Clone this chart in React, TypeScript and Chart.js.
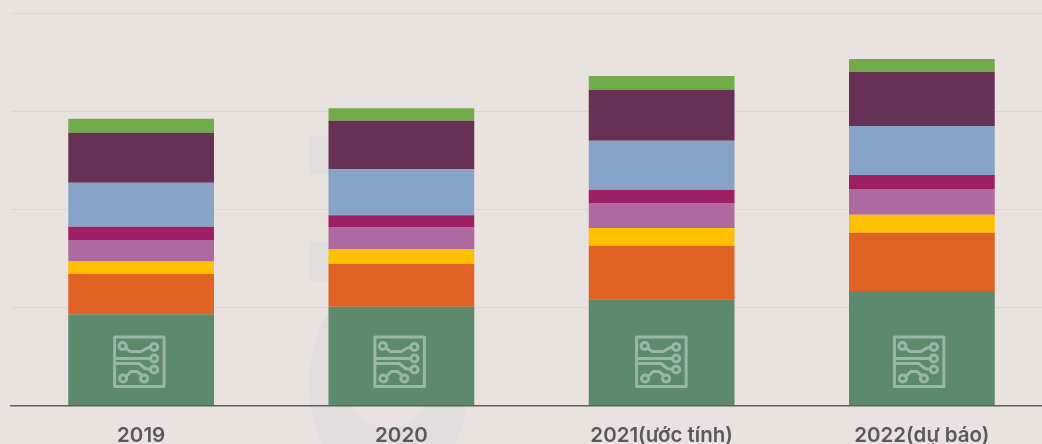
import React, { useEffect, useRef } from "react";
import { Chart, registerables } from "chart.js";

Chart.register(...registerables);

const categories = ["2019", "2020", "2021(ước tính)", "2022(dự báo)"];
const baseGreen = [93, 100.8, 108.4, 116.8];
const orange = [41.4, 43.9, 54.7, 59.5];
const yellow = [12.6, 14.7, 18, 18.4];
const mauve = [22, 22.8, 25.5, 26.2];
const crimson = [13.3, 11.9, 13.6, 14.3];
const blue = [45.1, 46.9, 50, 50];
const purple = [51, 49.6, 52, 55.4];
const lime = [14.3, 12.7, 14, 13];
const yTicks = [0, 100, 200, 300, 400];
const iconNudge = [-2, -2, -0.5, -3];

const BG = "#e9e2df";

const backdrop = {
  id: "backdrop",
  beforeDraw(chart: any) {
    const { ctx, width, height } = chart;
    ctx.save();
    ctx.fillStyle = BG;
    ctx.fillRect(0, 0, width, height);
    ctx.fillStyle = "#e1dedb";
    ctx.fillRect(309, 136, 25, 39);
    ctx.fillRect(309, 241, 25, 40);
    ctx.beginPath();
    ctx.ellipse(389, 383, 80, 108, 0, 0, Math.PI * 2);
    ctx.ellipse(388, 365, 47, 63, 0, 0, Math.PI * 2);
    ctx.fill("evenodd");
    ctx.restore();
  },
};

const circuitIcon = {
  id: "circuitIcon",
  afterDatasetsDraw(chart: any) {
    const { ctx } = chart;
    const meta = chart.getDatasetMeta(0);
    const yBase = chart.scales.y.getPixelForValue(0);
    meta.data.forEach((bar: any, i: number) => {
      const cx = bar.x + iconNudge[i];
      const cy = yBase - 44;
      ctx.save();
      ctx.translate(cx - 26, cy - 26);
      ctx.strokeStyle = "#9ab6a6";
      ctx.lineWidth = 3;
      ctx.lineCap = "round";
      ctx.lineJoin = "round";
      ctx.strokeRect(1.5, 1.5, 49.5, 49.5);
      const ring = (x: number, y: number) => {
        ctx.beginPath();
        ctx.arc(x, y, 3.6, 0, Math.PI * 2);
        ctx.stroke();
      };
      ring(9.5, 10.5);
      ring(41, 11.5);
      ring(41, 23);
      ring(41, 34);
      ring(10, 43);
      ring(31, 43);
      const line = (pts: number[][]) => {
        ctx.beginPath();
        ctx.moveTo(pts[0][0], pts[0][1]);
        pts.slice(1).forEach((p) => ctx.lineTo(p[0], p[1]));
        ctx.stroke();
      };
      line([[12.5, 12.5], [17, 16], [28, 16], [33, 13], [37.5, 11.5]]);
      line([[3, 23], [37.5, 23]]);
      line([[3, 28], [26, 28], [32, 33], [37.5, 34]]);
      line([[13, 41], [18, 36], [24, 36], [29, 40]]);
      ctx.restore();
    });
  },
};

export default function App() {
  const ref = useRef<HTMLCanvasElement | null>(null);

  useEffect(() => {
    const series = [
      { label: "A", data: baseGreen, backgroundColor: "#5d896d" },
      { label: "B", data: orange, backgroundColor: "#e16323" },
      { label: "C", data: yellow, backgroundColor: "#ffc000" },
      { label: "D", data: mauve, backgroundColor: "#ad6aa1" },
      { label: "E", data: crimson, backgroundColor: "#9f1f63" },
      { label: "F", data: blue, backgroundColor: "#88a3c8" },
      { label: "G", data: purple, backgroundColor: "#673055" },
      { label: "H", data: lime, backgroundColor: "#70ad4a" },
    ];
    const chart = new Chart(ref.current as HTMLCanvasElement, {
      type: "bar",
      data: {
        labels: categories,
        datasets: series.map((s) => ({
          ...s,
          categoryPercentage: 1,
          barPercentage: 0.56,
          borderWidth: 0,
        })),
      },
      options: {
        responsive: false,
        animation: false,
        layout: { padding: { top: 13.5, left: 0, right: 0, bottom: 0 } },
        plugins: { legend: { display: false }, tooltip: { enabled: false } },
        scales: {
          x: {
            type: "category",
            stacked: true,
            offset: true,
            afterFit(scale: any) {
              scale.height = 38.5;
            },
            grid: { display: false, drawTicks: false },
            border: { color: "#5f5f5f", width: 1.5 },
            ticks: {
              color: "#5a5a5a",
              maxRotation: 0,
              autoSkip: false,
              padding: 18.5,
              font: { family: "Inter", size: 20.5, weight: 600 },
            },
          },
          y: {
            type: "linear",
            stacked: true,
            min: 0,
            max: 400,
            afterBuildTicks(scale: any) {
              scale.ticks = yTicks.map((value) => ({ value }));
            },
            afterFit(scale: any) {
              scale.width = 11;
            },
            grid: { color: "#dad7d2", lineWidth: 1, drawTicks: false },
            border: { display: false },
            ticks: { display: false },
          },
        },
      },
      plugins: [backdrop, circuitIcon],
    } as any);
    return () => chart.destroy();
  }, []);

  return (
    <div
      style={{
        position: "fixed",
        left: 0,
        top: 0,
        width: 1042,
        height: 444,
        overflow: "hidden",
        background: BG,
      }}
    >
      <canvas
        ref={ref}
        width={1052}
        height={444}
        style={{ display: "block", width: 1052, height: 444 }}
      />
    </div>
  );
}
